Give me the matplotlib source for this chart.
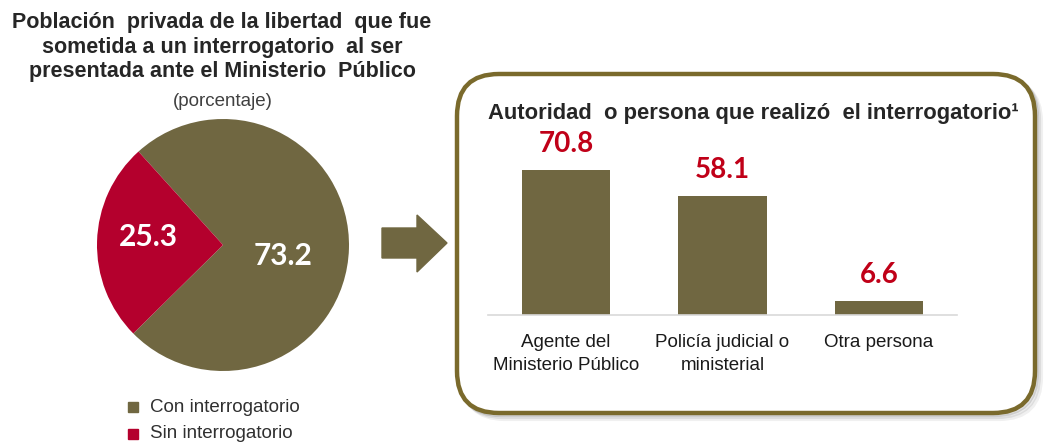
import matplotlib
matplotlib.use("Agg")
import matplotlib.pyplot as plt
from matplotlib.patches import FancyBboxPatch, Polygon
import numpy as np

# ---- data ----
pie_labels = ["Con interrogatorio", "Sin interrogatorio"]
pie_values = [73.2, 25.3]
bar_categories = ["Agente del\nMinisterio Público", "Policía judicial o\nministerial", "Otra persona"]
bar_values = [70.8, 58.1, 6.6]

left_title = "Población  privada de la libertad  que fue\nsometida a un interrogatorio  al ser\npresentada ante el Ministerio  Público"
left_subtitle = "(porcentaje)"
right_title = "Autoridad  o persona que realizó  el interrogatorio¹"

OLIVE = "#706741"
RED = "#B4002D"
REDTXT = "#C00018"
BORDER = "#7A6A2C"
TXT = "#262626"

W, H = 1047, 446
fig = plt.figure(figsize=(W / 100, H / 100), dpi=100)
fig.patch.set_facecolor("white")

# background axes in pixel coordinates
bg = fig.add_axes([0, 0, 1, 1])
bg.set_xlim(0, W)
bg.set_ylim(H, 0)
bg.axis("off")

# titles left
bg.text(222, 47, left_title, ha="center", va="center", fontsize=15.5, fontweight="bold",
        family=["Liberation Sans", "DejaVu Sans"], color=TXT, linespacing=1.22)
bg.text(223, 102, left_subtitle, ha="center", va="center", fontsize=13.5,
        family=["Liberation Sans", "DejaVu Sans"], color="#404040")

# legend
for i, (lab, col) in enumerate(zip(pie_labels, [OLIVE, RED])):
    y = 407 + i * 27
    bg.add_patch(plt.Rectangle((128, y - 5), 10, 10, color=col))
    bg.text(150, y, lab, ha="left", va="center", fontsize=13.5,
            family=["Liberation Sans", "DejaVu Sans"], color="#303030")

# arrow
arrow = Polygon([(382, 228), (417, 228), (417, 215), (447, 243), (417, 272), (417, 258), (382, 258)],
                closed=True, color=OLIVE)
bg.add_patch(arrow)

# rounded box with shadow
for k, a in [(6, 0.06), (4, 0.08), (2, 0.12)]:
    bg.add_patch(FancyBboxPatch((457 + k, 74 + k), 578, 339,
                                boxstyle="round,pad=0,rounding_size=42",
                                fill=False, ec="#000000", lw=3, alpha=a))
bg.add_patch(FancyBboxPatch((457, 74), 578, 339, boxstyle="round,pad=0,rounding_size=42",
                            fc="white", ec=BORDER, lw=3.2))

bg.text(488, 114, right_title, ha="left", va="center", fontsize=15.8, fontweight="bold",
        family=["Liberation Sans", "DejaVu Sans"], color=TXT)

# ---- pie ----
cx, cy, r = 223, 245, 126
pax = fig.add_axes([(cx - r) / W, (H - cy - r) / H, 2 * r / W, 2 * r / H])
wedges, _ = pax.pie(pie_values, colors=[OLIVE, RED], startangle=224.6, counterclock=True,
                    radius=1.0, wedgeprops=dict(linewidth=0))
pax.set_xlim(-1, 1)
pax.set_ylim(-1, 1)
pax.set_aspect("equal")
pax.axis("off")
label_pos = [(0.48, -0.09), (-0.59, 0.06)]
for w, v, (lx, ly) in zip(wedges, pie_values, label_pos):
    pax.text(lx, ly, f"{v:.1f}", ha="center", va="center", color="white",
             fontsize=21.5, fontweight="bold", family=["Lato", "DejaVu Sans"])

# ---- bars ----
base_px = 315
px_per_unit = 2.048
ax_h = 160
bax = fig.add_axes([488 / W, (H - base_px) / H, (957 - 488) / W, ax_h / H])
bax.patch.set_alpha(0)
x = np.arange(len(bar_values))
bars = bax.bar(x, bar_values, width=0.565, color=OLIVE)
bax.set_xlim(-0.5, len(bar_values) - 0.5)
bax.set_ylim(0, ax_h / px_per_unit)
for s in ["top", "right", "left"]:
    bax.spines[s].set_visible(False)
bax.spines["bottom"].set_color("#D9D9D9")
bax.spines["bottom"].set_linewidth(1.2)
bax.set_yticks([])
bax.set_xticks(x)
bax.set_xticklabels(bar_categories, fontsize=13.5, family=["Liberation Sans", "DejaVu Sans"],
                    color="#1a1a1a", linespacing=1.45, va="top")
bax.tick_params(axis="x", length=0, pad=14)
for xi, v in zip(x, bar_values):
    bax.annotate(f"{v:.1f}", (xi, v), xytext=(0, 19), textcoords="offset points",
                 ha="center", va="center", color=REDTXT, fontsize=20, fontweight="bold",
                 family=["Lato", "DejaVu Sans"])

fig.savefig("out.png", dpi=100, facecolor="white")
